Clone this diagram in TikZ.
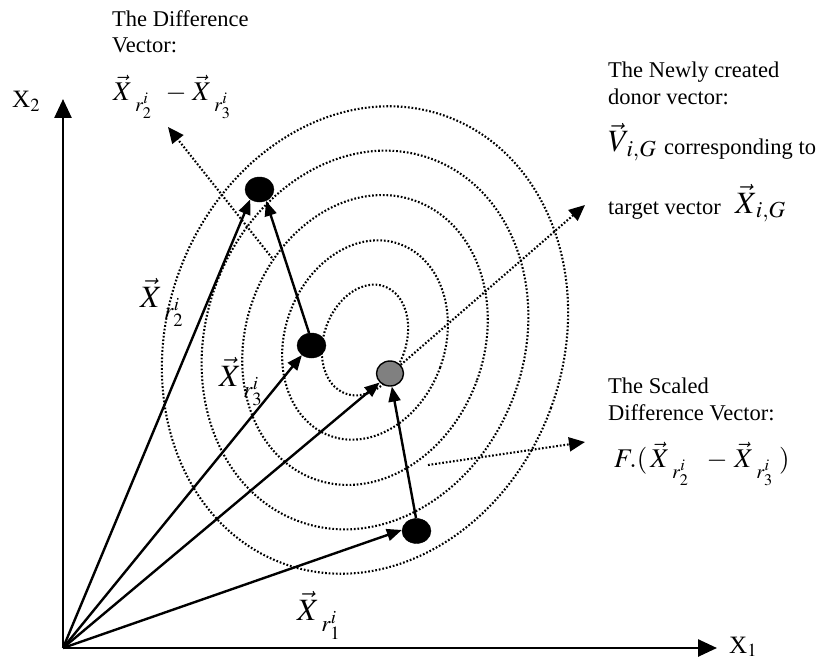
\documentclass[tikz,border=0pt]{standalone}
\usepackage{mathptmx}
\usepackage{fontspec}
\setmainfont{Liberation Serif}
\usetikzlibrary{arrows.meta,shapes.geometric}
\newcommand{\Xs}[1]{\vec{X}_{\hspace{6pt}\raisebox{-7pt}{$\scriptstyle #1$}}}
\begin{document}
\begin{tikzpicture}[x=1pt,y=-1pt,
  txt/.style={inner sep=0pt, anchor=base west, font=\fontsize{22.5}{26}\selectfont},
  axlab/.style={inner sep=0pt, anchor=base west, font=\fontsize{25}{28}\selectfont},
  mth/.style={inner sep=0pt, anchor=base west, font=\fontsize{27}{30}\selectfont},
  bigmth/.style={inner sep=0pt, anchor=base west, font=\fontsize{31}{34}\selectfont},
  contour/.style={line width=2.1pt, dash pattern=on 1.7pt off 1.9pt},
  dotarrow/.style={contour, -{Triangle[length=16pt,width=14pt]}},
  vecarrow/.style={line width=2.4pt, -{Triangle[length=15pt,width=12pt]}},
  axis/.style={line width=2.6pt, -{Triangle[length=19pt,width=17pt]}},
  blackdot/.style={ellipse, fill=black, draw=black, minimum width=29pt, minimum height=25pt, inner sep=0pt},
  graydot/.style={ellipse, fill=black!50, draw=black, line width=1.4pt, minimum width=27pt, minimum height=25pt, inner sep=0pt}]
\useasboundingbox (0,0) rectangle (823,661);
% contour ellipses
\foreach \a/\b in {41/57, 80/102, 119/148, 159/193, 198/238}
  \draw[contour, rotate around={-20:(365,340)}] (365,340) ellipse [x radius=\a, y radius=\b];
% axes
\coordinate (O) at (63,648);
\coordinate (ytip) at (63,99);
\coordinate (xtip) at (717,648);
\draw[axis] (O) -- (ytip);
\draw[axis] (O) -- (xtip);
\node[axlab] (x2) at (12,108) {X$_2$};
\node[axlab] (x1) at (729,653) {X$_1$};
% points
\node[blackdot] (r2) at (259.5,189.5) {};
\node[blackdot] (r3) at (311.5,345.5) {};
\node[blackdot] (r1) at (416.5,531) {};
\node[graydot] (d) at (390,373.5) {};
% solid vectors
\draw[vecarrow] (O) -- (r2.227);
\draw[vecarrow] (O) -- (r3.225);
\draw[vecarrow] (O) -- (d.221);
\draw[vecarrow] (O) -- (r1.176);
\draw[vecarrow] (r3.101) -- (r2.300);
\draw[vecarrow] (r1.92) -- (d.278);
% dotted pointers
\coordinate (diffs) at (272,258);
\coordinate (difft) at (168,127);
\coordinate (dont) at (585,205);
\coordinate (scs) at (428,465);
\coordinate (sct) at (585,442);
\draw[dotarrow] (diffs) -- (difft);
\draw[dotarrow] (d.39) -- (dont);
\draw[dotarrow] (scs) -- (sct);
% labels
\node[txt] (dl1) at (112,27) {The Difference};
\node[txt] (dl2) at (112,53) {Vector:};
\node[mth] (dm) at (113,100) {$\Xs{r_2^i}\hspace{10pt} - \hspace{2pt}\Xs{r_3^i}$};
\node[txt] (nl1) at (608,78) {The Newly created};
\node[txt] (nl2) at (608,105) {donor vector:};
\node[bigmth] (vm) at (608,152) {$\vec{V}_{\,i,G}$};
\node[txt] (vt) at (664,154) {corresponding to};
\node[txt] (tt) at (608,214) {target vector};
\node[bigmth] (tm) at (735,213) {$\vec{X}_{\,i,G}$};
\node[txt] (sl1) at (608,393) {The Scaled};
\node[txt] (sl2) at (608,420) {Difference Vector:};
\node[mth] (sm) at (614,467) {$F.(\,\Xs{r_2^i}\hspace{14pt} - \hspace{3pt}\Xs{r_3^i}\hspace{6pt})$};
\node[bigmth] (lr2) at (140,307) {$\Xs{r_2^i}$};
\node[bigmth] (lr3) at (219,386) {$\Xs{r_3^i}$};
\node[bigmth] (lr1) at (297,620) {$\Xs{r_1^i}$};
\end{tikzpicture}
\end{document}
